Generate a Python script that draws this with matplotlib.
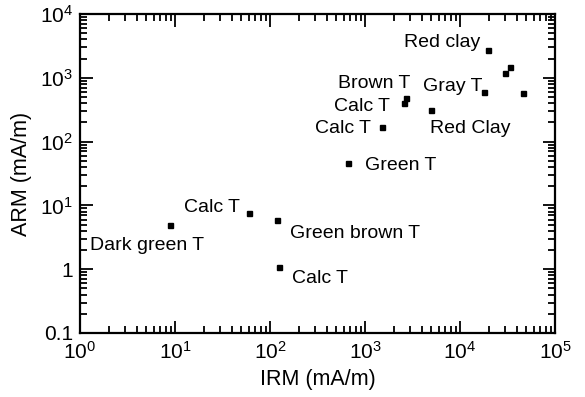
import matplotlib
matplotlib.use("Agg")
import matplotlib.pyplot as plt
from matplotlib.ticker import LogLocator, FixedLocator, FixedFormatter, NullFormatter

plt.rcParams["font.family"] = "Liberation Sans"
plt.rcParams["mathtext.fontset"] = "custom"
plt.rcParams["mathtext.rm"] = "Liberation Sans"
plt.rcParams["mathtext.it"] = "Liberation Sans:italic"

# IRM vs ARM for the sediment samples
irm = [8.9, 60, 118, 124, 660, 1510, 2570, 2700, 4950, 17900, 19700, 29800, 33600, 46000]
arm = [4.9, 7.6, 5.9, 1.08, 46, 169, 403, 482, 313, 600, 2730, 1190, 1480, 578]
names = ["Dark green T", "Calc T", "Green brown T", "Calc T", "Green T", "Calc T",
         "Calc T", "Brown T", "Red Clay", "Gray T", "Red clay", "", "", ""]

# label offsets (pixels) and horizontal alignment
offsets = [(-80, -20, "left"), (-9, 6, "right"), (13, -13, "left"), (13, -11, "left"),
           (17, -2, "left"), (-11, -1, "right"), (-14, -4, "right"), (4, 15, "right"),
           (-1, -19, "left"), (-2, 5, "right"), (-8, 7, "right"),
           (0, 0, "left"), (0, 0, "left"), (0, 0, "left")]

xticks = [1, 10, 100, 1e3, 1e4, 1e5]
xticklabels = ["$10^0$", "$10^1$", "$10^2$", "$10^3$", "$10^4$", "$10^5$"]
yticks = [0.1, 1, 10, 100, 1e3, 1e4]
yticklabels = ["0.1", "1", "$10^1$", "$10^2$", "$10^3$", "$10^4$"]

fig = plt.figure(figsize=(5.85, 3.97), dpi=100)
ax = fig.add_axes([80 / 585, 1 - 333 / 397, 475 / 585, 319 / 397])

ax.plot(irm, arm, "s", color="black", markersize=3.6, linestyle="none")

for x, y, name, (dx, dy, ha) in zip(irm, arm, names, offsets):
    if not name:
        continue
    ax.annotate(name, (x, y), xytext=(dx * 0.72, dy * 0.72), textcoords="offset points",
                ha=ha, va="center", fontsize=14)

ax.set_xscale("log")
ax.set_yscale("log")
ax.set_xlim(1, 1e5)
ax.set_ylim(0.1, 1e4)

ax.xaxis.set_major_locator(FixedLocator(xticks))
ax.xaxis.set_major_formatter(FixedFormatter(xticklabels))
ax.yaxis.set_major_locator(FixedLocator(yticks))
ax.yaxis.set_major_formatter(FixedFormatter(yticklabels))
ax.xaxis.set_minor_locator(LogLocator(base=10, subs=range(2, 10), numticks=20))
ax.yaxis.set_minor_locator(LogLocator(base=10, subs=range(2, 10), numticks=20))
ax.xaxis.set_minor_formatter(NullFormatter())
ax.yaxis.set_minor_formatter(NullFormatter())

ax.tick_params(which="both", direction="in", top=True, right=True, width=1.3, labelsize=15)
ax.tick_params(which="major", length=9)
ax.tick_params(which="minor", length=5)
ax.tick_params(axis="x", which="major", pad=6)
ax.tick_params(axis="y", which="major", pad=5)
for s in ax.spines.values():
    s.set_linewidth(1.6)

ax.set_xlabel("IRM (mA/m)", fontsize=15.5, labelpad=4)
ax.set_ylabel("ARM (mA/m)", fontsize=15.5, labelpad=6)

fig.savefig("out.png", dpi=100)
